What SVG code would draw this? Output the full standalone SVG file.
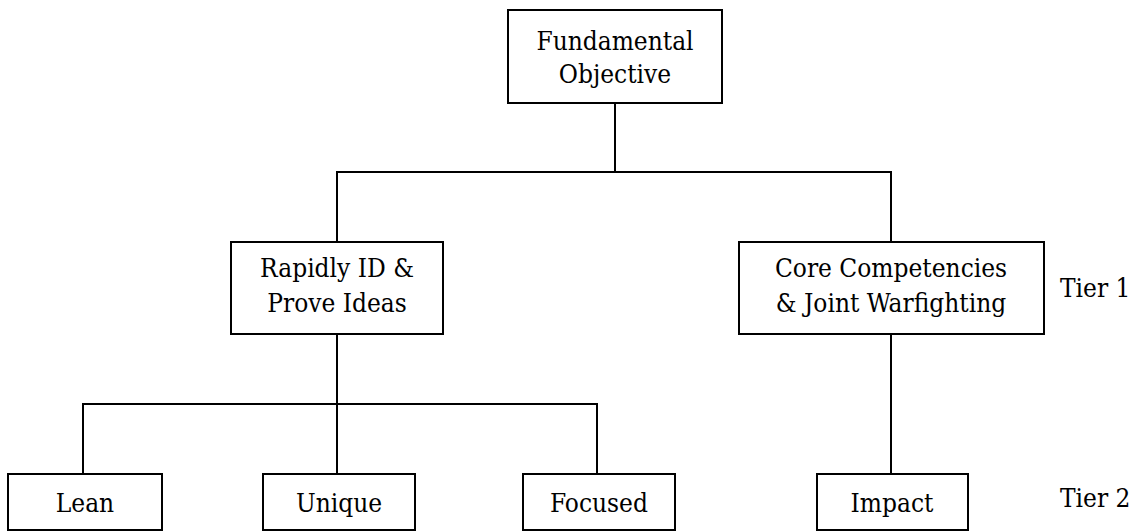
<svg xmlns="http://www.w3.org/2000/svg" width="1143" height="531" viewBox="0 0 1143 531">
<style>
.box{fill:#fff;stroke:#000;stroke-width:2}
.ln{fill:none;stroke:#000;stroke-width:2}
.t{font-family:'DejaVu Serif Condensed','DejaVu Serif','Liberation Serif',serif;font-stretch:condensed;font-size:26px;fill:#000;text-anchor:middle}
.lbl{text-anchor:start}
</style>
<rect width="1143" height="531" fill="#fff"/>
<g id="connectors">
<path class="ln" d="M615,103 V172 M337,242 V172 H891 V242"/>
<path class="ln" d="M337,334 V404 M83,474 V404 H597 V474 M337,404 V474"/>
<path class="ln" d="M891,334 V474"/>
</g>
<g id="n-fundamental">
<rect class="box" x="508" y="10" width="214" height="93"/>
<text class="t" x="615" y="50">Fundamental</text>
<text class="t" x="615" y="83">Objective</text>
</g>
<g id="n-rapidly">
<rect class="box" x="231" y="242" width="212" height="92"/>
<text class="t" x="337" y="277">Rapidly ID &amp;</text>
<text class="t" x="337" y="312">Prove Ideas</text>
</g>
<g id="n-core">
<rect class="box" x="739" y="242" width="305" height="92"/>
<text class="t" x="891" y="277">Core Competencies</text>
<text class="t" x="891" y="312">&amp; Joint Warfighting</text>
</g>
<g id="n-lean">
<rect class="box" x="8" y="474" width="154" height="56"/>
<text class="t" x="85" y="512">Lean</text>
</g>
<g id="n-unique">
<rect class="box" x="263" y="474" width="152" height="56"/>
<text class="t" x="339" y="512">Unique</text>
</g>
<g id="n-focused">
<rect class="box" x="523" y="474" width="152" height="56"/>
<text class="t" x="599" y="512">Focused</text>
</g>
<g id="n-impact">
<rect class="box" x="817" y="474" width="151" height="56"/>
<text class="t" x="892" y="512">Impact</text>
</g>
<g id="tier-labels">
<text class="t lbl" x="1060" y="297">Tier 1</text>
<text class="t lbl" x="1060" y="507">Tier 2</text>
</g>
</svg>
